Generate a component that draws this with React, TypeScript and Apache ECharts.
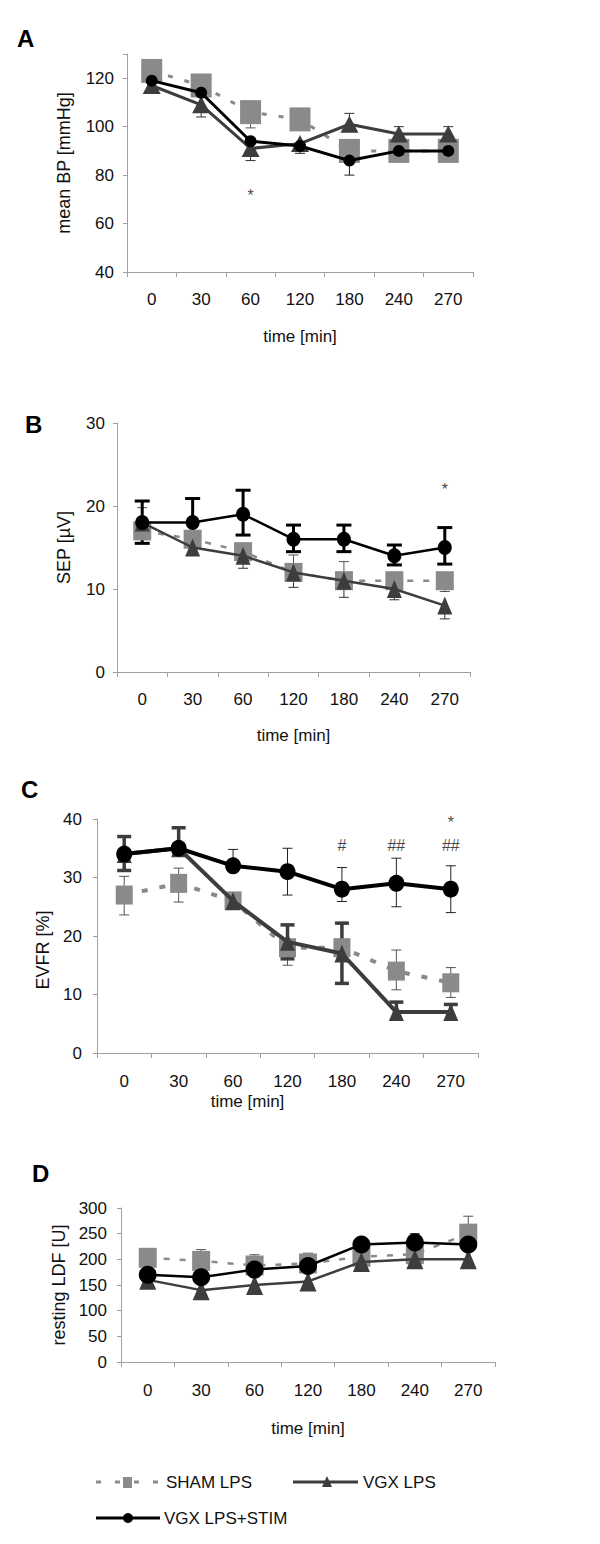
import React, { useEffect, useRef } from 'react';
import * as echarts from 'echarts';

const FONT = 'Liberation Sans, Arial, sans-serif';

const times = ['0', '30', '60', '120', '180', '240', '270'];

// Panel A: mean BP [mmHg]
const bpSham = [123, 117, 106, 103, 90, 90, 90];
const bpVgx = [117, 109, 91, 93, 101, 97, 97];
const bpStim = [119, 114, 94, 92, 86, 90, 90];
const bpErrSham: number[][] = [[2, 99.5]];
const bpErrVgx = [[1, 104], [2, 86], [4, 105.5], [5, 100], [6, 100]];
const bpErrStim = [[3, 89], [4, 80]];
const bpMarks: [number, number, string][] = [[2, 73, '*']];

// Panel B: SEP [µV]
const sepSham = [17, 16, 14.5, 12, 11, 11, 11];
const sepVgx = [18, 15, 14, 12, 11, 10, 8];
const sepStim = [18, 18, 19, 16, 16, 14, 15];
const sepErrSham = [[0, 19.8], [3, 14.1], [4, 13.3], [6, 9.7]];
const sepErrVgx = [[2, 12.5], [3, 10.2], [4, 9], [5, 8.7], [6, 6.4]];
const sepErrStim = [[0, 20.6], [0, 15.5], [1, 20.9], [2, 21.9], [2, 16.5], [3, 17.7], [3, 14.5], [4, 17.7], [4, 14.5], [5, 15.3], [5, 12.9], [6, 17.4], [6, 13]];
const sepMarks: [number, number, string][] = [[6, 22.3, '*']];

// Panel C: EVFR [%]
const evSham = [27, 29, 26, 18, 18, 14, 12];
const evVgx = [34, 35, 26, 19, 17, 7, 7];
const evStim = [34, 35, 32, 31, 28, 29, 28];
const evErrSham = [[0, 23.6], [0, 30.2], [1, 25.8], [1, 31.6], [3, 15], [5, 17.6], [5, 10.8], [6, 14.6], [6, 9.5]];
const evErrVgx = [[0, 37], [0, 31.2], [1, 38.5], [3, 21.9], [3, 16.1], [4, 22.2], [4, 11.9], [5, 8.7], [6, 8.3]];
const evErrStim = [[2, 34.8], [3, 35], [3, 27], [4, 31.7], [4, 25.9], [5, 33.3], [5, 25], [6, 32], [6, 24]];
const evMarks: [number, number, string][] = [[4, 36, '#'], [5, 36, '##'], [6, 36, '##'], [6, 40, '*']];

// Panel D: resting LDF [U]
const ldfSham = [203, 197, 188, 192, 205, 210, 250];
const ldfVgx = [160, 140, 150, 157, 195, 200, 200];
const ldfStim = [170, 165, 180, 187, 229, 233, 229];
const ldfErrSham = [[1, 219], [2, 209], [3, 212], [6, 284]];
const ldfErrVgx = [[0, 144]];
const ldfErrStim = [[5, 250]];
const ldfMarks: [number, number, string][] = [];

const SHAM_C = '#8a8a8a';
const VGX_C = '#3d3d3d';
const STIM_C = '#000000';
const AXIS_C = '#a0a0a0';

function errRender(capW: number, width: number, color: string) {
  return (params: any, api: any) => {
    const c = api.value(0);
    const p1 = api.coord([c, api.value(1)]);
    const p2 = api.coord([c, api.value(2)]);
    return {
      type: 'group',
      children: [
        { type: 'line', shape: { x1: p1[0], y1: p1[1], x2: p2[0], y2: p2[1] }, style: { stroke: color, lineWidth: width } },
        { type: 'line', shape: { x1: p2[0] - capW / 2, y1: p2[1], x2: p2[0] + capW / 2, y2: p2[1] }, style: { stroke: color, lineWidth: width } },
      ],
    };
  };
}

interface PanelCfg {
  grid: { left: number; top: number; width: number; height: number };
  min: number; max: number; interval: number;
  yName: string; yNameGap: number; yNamePad?: number[]; xNameGap: number; xNamePad?: number[];
  yLabelMargin: number; xLabelMargin: number;
  sham: number[]; vgx: number[]; stim: number[];
  errSham: number[][]; errVgx: number[][]; errStim: number[][];
  marks: [number, number, string][];
  lineW: number; dash: number[];
  sq: number[]; tri: number[]; circ: number[];
  thickVgx?: boolean; thickStim?: boolean;
}

function buildPanel(i: number, p: PanelCfg) {
  const grid = { ...p.grid, containLabel: false, outerBoundsMode: 'none' };
  const xAxis = {
    gridIndex: i, type: 'category', data: times, boundaryGap: true,
    axisLine: { onZero: false, lineStyle: { color: AXIS_C, width: 1 } },
    axisTick: { show: true, interval: 0, length: 5, lineStyle: { color: AXIS_C } },
    axisLabel: { interval: 0, color: '#111', fontSize: 17, fontFamily: FONT, margin: p.xLabelMargin },
    splitLine: { show: false },
    name: 'time [min]', nameLocation: 'middle', nameGap: p.xNameGap,
    nameTextStyle: { color: '#111', fontSize: 17, fontFamily: FONT, padding: p.xNamePad || 0 },
  };
  const yAxis = {
    gridIndex: i, type: 'value', min: p.min, max: p.max, interval: p.interval,
    axisLine: { show: true, lineStyle: { color: AXIS_C, width: 1 } },
    axisTick: { show: true, length: 4, lineStyle: { color: AXIS_C } },
    splitLine: { show: false },
    axisLabel: {
      color: '#111', fontSize: 17, fontFamily: FONT, margin: p.yLabelMargin,
      formatter: (v: number) => ((v - p.min) % p.interval === 0 ? String(v) : ''),
    },
    name: p.yName, nameLocation: 'middle', nameGap: p.yNameGap, nameRotate: 90,
    nameTextStyle: { color: '#111', fontSize: 18, fontFamily: FONT, padding: p.yNamePad || 0 },
  };
  const mk = (arr: number[][], vals: number[]) => arr.map(([c, b]) => [c, vals[c], b]);
  const series: any[] = [
    {
      type: 'custom', xAxisIndex: i, yAxisIndex: i, z: 1, silent: true,
      renderItem: errRender(10, 1, '#555'), data: mk(p.errSham, p.sham),
    },
    {
      type: 'custom', xAxisIndex: i, yAxisIndex: i, z: 1, silent: true,
      renderItem: p.thickVgx ? errRender(14, 3.5, VGX_C) : errRender(10, 1, '#333'), data: mk(p.errVgx, p.vgx),
    },
    {
      type: 'custom', xAxisIndex: i, yAxisIndex: i, z: 1, silent: true,
      renderItem: p.thickStim ? errRender(15, 3, STIM_C) : errRender(10, 1, '#222'), data: mk(p.errStim, p.stim),
    },
    {
      name: 'SHAM LPS', type: 'line', xAxisIndex: i, yAxisIndex: i, z: 2, data: p.sham,
      symbol: 'rect', symbolSize: p.sq, showAllSymbol: true,
      lineStyle: { color: SHAM_C, width: p.lineW, type: p.dash },
      itemStyle: { color: SHAM_C },
    },
    {
      name: 'VGX LPS', type: 'line', xAxisIndex: i, yAxisIndex: i, z: 3, data: p.vgx,
      symbol: 'triangle', symbolSize: p.tri, showAllSymbol: true,
      lineStyle: { color: VGX_C, width: p.lineW },
      itemStyle: { color: VGX_C },
    },
    {
      name: 'VGX LPS+STIM', type: 'line', xAxisIndex: i, yAxisIndex: i, z: 4, data: p.stim,
      symbol: 'circle', symbolSize: p.circ, showAllSymbol: true,
      lineStyle: { color: STIM_C, width: p.lineW },
      itemStyle: { color: STIM_C },
    },
    {
      type: 'scatter', xAxisIndex: i, yAxisIndex: i, z: 5, silent: true,
      symbolSize: 1, itemStyle: { color: 'rgba(0,0,0,0)' },
      data: p.marks.map((m) => ({ value: [m[0], m[1]], label: { formatter: m[2] } })),
      label: { show: true, position: 'inside', color: '#111', fontSize: 16, fontFamily: FONT, offset: [0, 3] },
    },
  ];
  return { grid, xAxis, yAxis, series };
}

const panels: PanelCfg[] = [
  {
    grid: { left: 127, top: 54, width: 346, height: 218 }, min: 40, max: 130, interval: 20,
    yName: 'mean BP [mmHg]', yNameGap: 54, xNameGap: 56, yLabelMargin: 13, xLabelMargin: 19,
    sham: bpSham, vgx: bpVgx, stim: bpStim, errSham: bpErrSham, errVgx: bpErrVgx, errStim: bpErrStim,
    marks: bpMarks, lineW: 3, dash: [5, 12], sq: [21, 24], tri: [18, 17], circ: [12, 12],
  },
  {
    grid: { left: 117, top: 423, width: 353, height: 249 }, min: 0, max: 30, interval: 10,
    yName: 'SEP [µV]', yNameGap: 44, xNameGap: 55, yLabelMargin: 12, xLabelMargin: 19,
    sham: sepSham, vgx: sepVgx, stim: sepStim, errSham: sepErrSham, errVgx: sepErrVgx, errStim: sepErrStim,
    marks: sepMarks, lineW: 2.5, dash: [6, 10], sq: [18, 19], tri: [15, 18], circ: [14, 15], thickStim: true,
  },
  {
    grid: { left: 97, top: 819, width: 381, height: 234 }, min: 0, max: 40, interval: 10,
    yName: 'EVFR [%]', yNameGap: 44, yNamePad: [0, 28, 0, 0], xNameGap: 40, xNamePad: [0, 80, 0, 0],
    yLabelMargin: 15, xLabelMargin: 20,
    sham: evSham, vgx: evVgx, stim: evStim, errSham: evErrSham, errVgx: evErrVgx, errStim: evErrStim,
    marks: evMarks, lineW: 4, dash: [6, 12], sq: [17, 19], tri: [15, 18], circ: [16, 17], thickVgx: true,
  },
  {
    grid: { left: 121, top: 1208, width: 374, height: 154 }, min: 0, max: 300, interval: 50,
    yName: 'resting LDF [U]', yNameGap: 53, xNameGap: 58, yLabelMargin: 14, xLabelMargin: 20,
    sham: ldfSham, vgx: ldfVgx, stim: ldfStim, errSham: ldfErrSham, errVgx: ldfErrVgx, errStim: ldfErrStim,
    marks: ldfMarks, lineW: 2.5, dash: [6, 10], sq: [18, 20], tri: [17, 20], circ: [18, 18],
  },
];

const panelLetters: [string, number, number][] = [['A', 17, 38], ['B', 25, 424], ['C', 21, 789], ['D', 32, 1173]];

function legendGraphics() {
  const txt = (t: string, x: number, y: number) => ({
    type: 'text', x, y, style: { text: t, fill: '#111', font: `17px ${FONT}`, textVerticalAlign: 'middle', textAlign: 'left' },
  });
  return [
    { type: 'line', shape: { x1: 96, y1: 1482, x2: 160, y2: 1482 }, style: { stroke: SHAM_C, lineWidth: 3, lineDash: [5, 14] } },
    { type: 'rect', shape: { x: 123, y: 1477, width: 9, height: 11 }, style: { fill: SHAM_C } },
    txt('SHAM LPS', 166, 1482),
    { type: 'line', shape: { x1: 293, y1: 1482, x2: 358, y2: 1482 }, style: { stroke: VGX_C, lineWidth: 3 } },
    { type: 'polygon', shape: { points: [[327, 1476], [332, 1487], [322, 1487]] }, style: { fill: VGX_C } },
    txt('VGX LPS', 363, 1482),
    { type: 'line', shape: { x1: 96, y1: 1518, x2: 160, y2: 1518 }, style: { stroke: STIM_C, lineWidth: 3 } },
    { type: 'circle', shape: { cx: 128, cy: 1518, r: 5 }, style: { fill: STIM_C } },
    txt('VGX LPS+STIM', 164, 1518),
  ];
}

export default function App() {
  const ref = useRef<HTMLDivElement>(null);
  useEffect(() => {
    if (!ref.current) return;
    const chart = echarts.init(ref.current, undefined, { renderer: 'svg' });
    const built = panels.map((p, i) => buildPanel(i, p));
    const option: any = {
      animation: false,
      backgroundColor: '#ffffff',
      textStyle: { fontFamily: FONT },
      grid: built.map((b) => b.grid),
      xAxis: built.map((b) => b.xAxis),
      yAxis: built.map((b) => b.yAxis),
      series: built.flatMap((b) => b.series),
      graphic: [
        ...panelLetters.map(([t, x, y]) => ({
          type: 'text', x, y,
          style: { text: t, fill: '#000', font: `bold 24px ${FONT}`, textVerticalAlign: 'middle', textAlign: 'left' },
        })),
        ...legendGraphics(),
      ],
    };
    chart.setOption(option);
    return () => chart.dispose();
  }, []);
  return <div ref={ref} style={{ position: 'absolute', left: 0, top: 0, width: 600, height: 1544, background: '#fff' }} />;
}
